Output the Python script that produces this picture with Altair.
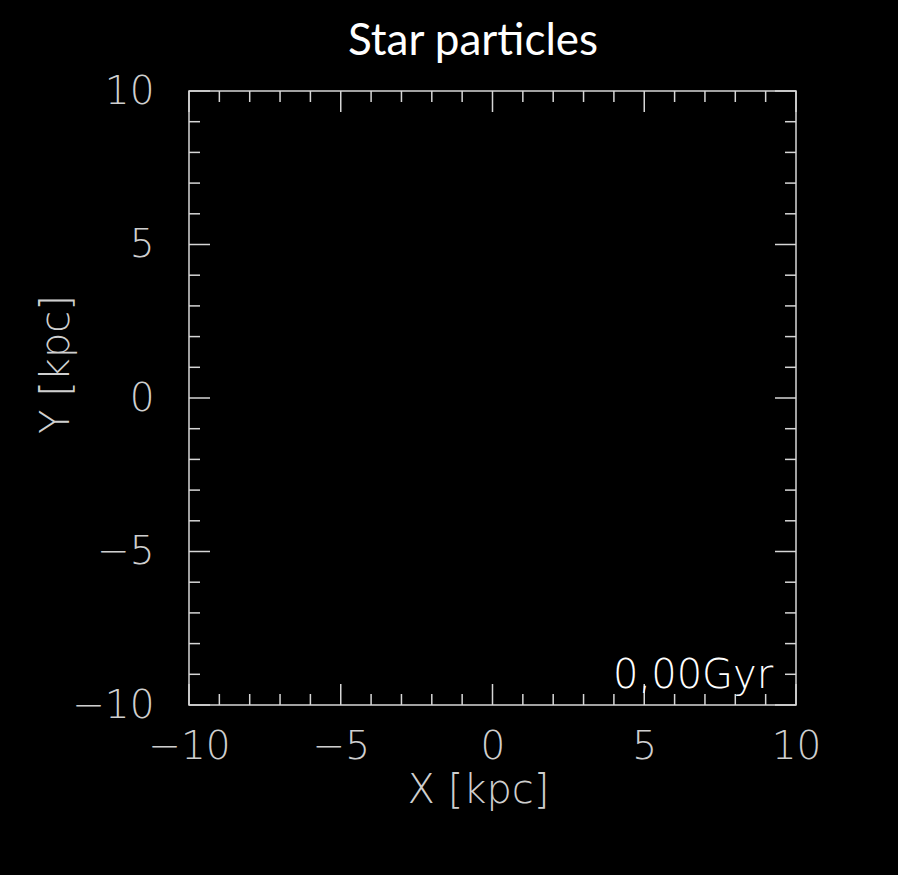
import altair as alt
import pandas as pd

# Star particle positions (kpc) at t = 0: none formed yet
star_x = []
star_y = []

# Axis tick positions (kpc)
major_ticks = [-10, -5, 0, 5, 10]
minor_ticks = [v for v in range(-10, 11) if v % 5 != 0]

# Snapshot time annotation
time_label = ["0,00Gyr"]
time_x = [9.25]
time_y = [-9.45]

panel_title = ["Star particles"]

W, H = 607, 614
FRAME = "#d6d6d6"
LABEL = "#cfcfcf"
AXFONT = "DejaVu Sans"

xs = alt.Scale(domain=[-10, 10], nice=False, zero=False)
ys = alt.Scale(domain=[-10, 10], nice=False, zero=False)

x_axis = alt.Axis(
    title="X [kpc]", values=major_ticks, ticks=False, tickSize=0, domain=False,
    grid=False, labelPadding=22, labelFlush=False, titleX=289, titleY=97,
    titleBaseline="alphabetic", titleAnchor="start", titleAlign="center")
y_axis = alt.Axis(
    title="Y [kpc]", values=major_ticks, ticks=False, tickSize=0, domain=False,
    grid=False, labelPadding=35, labelFlush=False, titleX=-121, titleY=273,
    titleBaseline="alphabetic", titleAnchor="start", titleAlign="center")


def X(field):
    return alt.X(field, type="quantitative", scale=xs, axis=x_axis)


def Y(field):
    return alt.Y(field, type="quantitative", scale=ys, axis=y_axis)


stars = pd.DataFrame({"x": star_x, "y": star_y}, dtype=float)
majors = pd.DataFrame({"t": major_ticks})
minors = pd.DataFrame({"t": minor_ticks})
ann = pd.DataFrame({"label": time_label, "x": time_x, "y": time_y})
head = pd.DataFrame({"title": panel_title})

points = alt.Chart(stars).mark_point(size=2, color="white", filled=True).encode(
    x=X("x"), y=Y("y"))


def tick_layers(df, length):
    rule = dict(color=FRAME, strokeWidth=1.5)
    bottom = alt.Chart(df).mark_rule(**rule).encode(
        x=X("t"), y=alt.value(H), y2=alt.value(H - length))
    top = alt.Chart(df).mark_rule(**rule).encode(
        x=X("t"), y=alt.value(0), y2=alt.value(length))
    left = alt.Chart(df).mark_rule(**rule).encode(
        y=Y("t"), x=alt.value(0), x2=alt.value(length))
    right = alt.Chart(df).mark_rule(**rule).encode(
        y=Y("t"), x=alt.value(W), x2=alt.value(W - length))
    return [bottom, top, left, right]


time_text = alt.Chart(ann).mark_text(
    align="right", baseline="alphabetic", font=AXFONT, fontSize=40,
    fontWeight=200, color="white"
).encode(x=X("x"), y=Y("y"), text="label:N")

# Panel heading above the frame
heading = alt.Chart(head).mark_text(
    align="center", baseline="alphabetic", font="Lato", fontSize=44,
    fontWeight=400, color="white"
).encode(x=alt.value(284), y=alt.value(-36), text="title:N")

chart = alt.layer(
    points, *tick_layers(minors, 11), *tick_layers(majors, 21), time_text, heading
).properties(
    width=W, height=H,
    autosize="none",
    padding={"left": 189, "top": 91, "right": 102, "bottom": 170},
).configure(
    background="black",
).configure_view(
    stroke=FRAME, strokeWidth=1.5, fill="black",
).configure_axis(
    labelFont=AXFONT, labelFontSize=39, labelFontWeight=200, labelColor=LABEL,
    titleFont=AXFONT, titleFontSize=40, titleFontWeight=200, titleColor=LABEL,
)

chart.save("out.html", embed_options={"renderer": "svg", "actions": False})
